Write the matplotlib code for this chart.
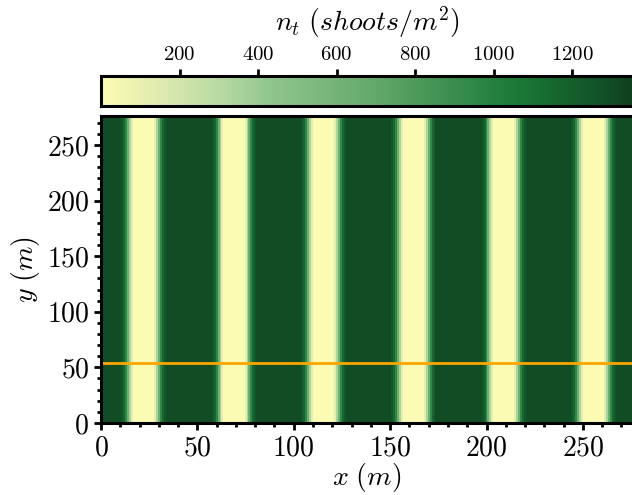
import numpy as np
import matplotlib
matplotlib.use('Agg')
import matplotlib.pyplot as plt
from matplotlib.colors import LinearSegmentedColormap
from matplotlib.ticker import MultipleLocator

plt.rcParams['mathtext.fontset'] = 'cm'
plt.rcParams['font.family'] = 'serif'
plt.rcParams['font.serif'] = ['cmr10']
plt.rcParams['axes.formatter.use_mathtext'] = True

# dominio (m)
Lx = 276.0
Ly = 276.0

# centros das faixas de baixa densidade (m)
stripe_centers = [22.0, 69.0, 115.6, 161.8, 209.2, 255.5]
plateau_half = 5.5      # meia largura da faixa clara (m)
ramp_step = 1.0         # largura de cada degrau da transicao (m)

# densidade: patamar claro, degraus de transicao e campo denso (shoots/m^2)
n_gap = 10.0
n_ramp = [120.0, 350.0, 650.0, 950.0, 1150.0, 1250.0]
n_dense = 1300.0

# linha do transecto
y_transect = 54.0

# escala de cor
cmap_pos = [0.0, 0.11, 0.23, 0.32, 0.49, 0.66, 0.78, 0.94, 1.0]
cmap_hex = ['#fcfcb4', '#dfeab0', '#b5d9a2', '#8fc58e', '#6aac70',
            '#3b8e4e', '#1b7a36', '#125228', '#0f4020']
vmin, vmax = 0.0, 1355.0
cbar_ticks = [200, 400, 600, 800, 1000, 1200]

cmap = LinearSegmentedColormap.from_list('shoots', list(zip(cmap_pos, cmap_hex)))

# monta as colunas do campo (constante em y)
dx = 0.5
x_edges = np.arange(0.0, Lx + dx, dx)
xc = 0.5 * (x_edges[:-1] + x_edges[1:])
dist = np.min(np.abs(xc[:, None] - np.array(stripe_centers)[None, :]), axis=1)
n_col = np.full(xc.shape, n_dense)
n_col[dist <= plateau_half] = n_gap
for k, val in enumerate(n_ramp):
    lo = plateau_half + k * ramp_step
    n_col[(dist > lo) & (dist <= lo + ramp_step)] = val
nt = n_col[None, :]
y_edges = np.array([0.0, Ly])

fig = plt.figure(figsize=(6.32, 4.95), dpi=100)
ax = fig.add_axes([0.1598, 0.1455, 0.8418, 0.620])
cax = fig.add_axes([0.1598, 0.786, 0.8418, 0.0606])

mesh = ax.pcolormesh(x_edges, y_edges, nt, cmap=cmap, vmin=vmin, vmax=vmax,
                     shading='flat', rasterized=True)
ax.axhline(y_transect, color='orange', lw=2)

ax.set_xlim(0, Lx)
ax.set_ylim(0, Ly)
ax.xaxis.set_major_locator(MultipleLocator(50))
ax.yaxis.set_major_locator(MultipleLocator(50))
ax.xaxis.set_minor_locator(MultipleLocator(10))
ax.yaxis.set_minor_locator(MultipleLocator(10))
ax.tick_params(which='major', direction='out', length=5, width=2, labelsize=20)
ax.tick_params(which='minor', direction='out', length=3, width=2)
for s in ax.spines.values():
    s.set_linewidth(2.2)
ax.set_xlabel(r'$x\ (m)$', fontsize=20, labelpad=0)
ax.set_ylabel(r'$y\ (m)$', fontsize=20, labelpad=3)

cb = fig.colorbar(mesh, cax=cax, orientation='horizontal')
cb.set_ticks(cbar_ticks)
cax.xaxis.set_ticks_position('top')
cax.xaxis.set_label_position('top')
cax.tick_params(direction='out', length=5, width=2, labelsize=15)
cb.outline.set_linewidth(2.2)
cb.set_label(r'$n_t\ (shoots/m^2)$', fontsize=20, labelpad=11)

fig.savefig('out.png', dpi=100)
